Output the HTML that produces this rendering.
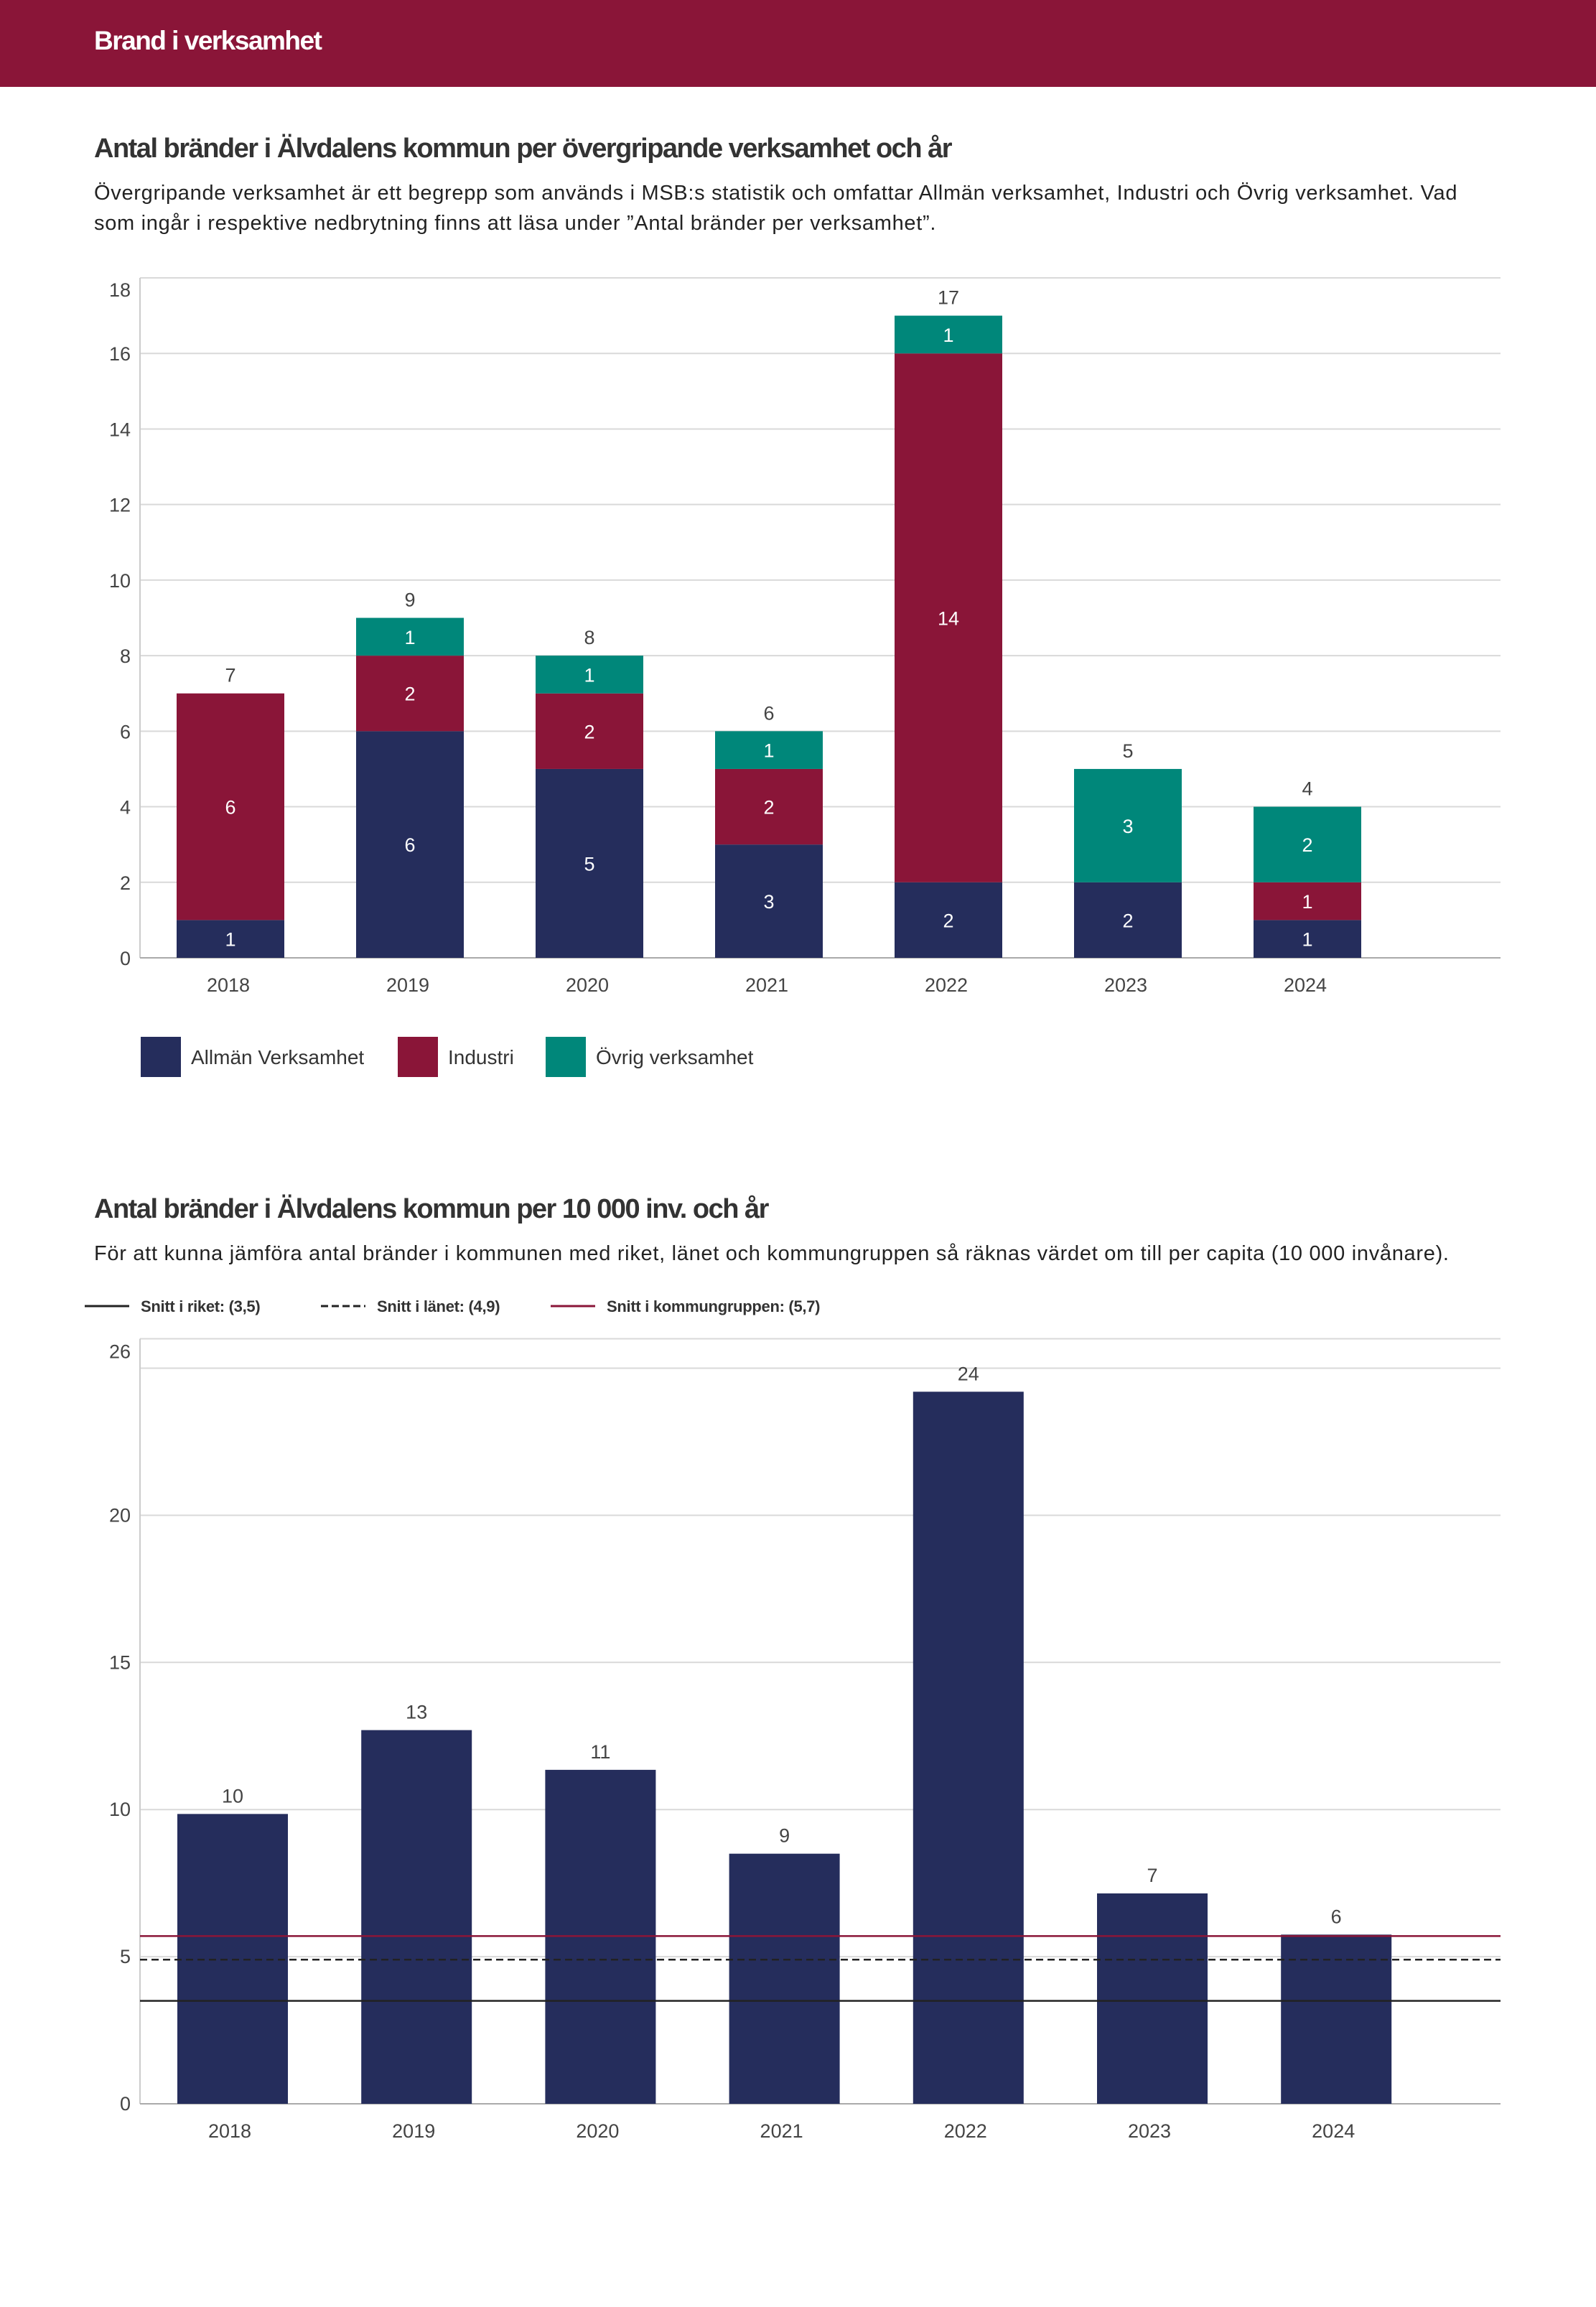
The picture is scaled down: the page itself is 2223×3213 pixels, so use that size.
<!DOCTYPE html>
<html><head><meta charset="utf-8">
<style>
html,body{margin:0;padding:0;background:#fff;}
body{width:2223px;height:3213px;position:relative;overflow:hidden;font-family:"Liberation Sans",sans-serif;color:#333;}
.hdr{position:absolute;left:0;top:0;width:2223px;height:121px;background:#8a1538;}
.hdr span{position:absolute;left:131px;top:36px;color:#fff;font-weight:bold;font-size:37px;letter-spacing:-1.5px;}
.t{position:absolute;left:131px;font-weight:bold;font-size:38px;color:#333;letter-spacing:-1.5px;white-space:nowrap;}
.s{position:absolute;left:131px;font-size:29px;color:#222;line-height:42px;letter-spacing:0.7px;white-space:nowrap;}
svg{position:absolute;left:0;top:0;}
</style></head>
<body>
<div class="hdr"><span>Brand i verksamhet</span></div>
<div class="t" style="top:186px">Antal bränder i Älvdalens kommun per övergripande verksamhet och år</div>
<div class="s" style="top:248px">Övergripande verksamhet är ett begrepp som används i MSB:s statistik och omfattar Allmän verksamhet, Industri och Övrig verksamhet. Vad<br>som ingår i respektive nedbrytning finns att läsa under ”Antal bränder per verksamhet”.</div>
<div class="t" style="top:1663px">Antal bränder i Älvdalens kommun per 10 000 inv. och år</div>
<div class="s" style="top:1725px">För att kunna jämföra antal bränder i kommunen med riket, länet och kommungruppen så räknas värdet om till per capita (10 000 invånare).</div>

<svg id="c" width="2223" height="3213" xmlns="http://www.w3.org/2000/svg" font-family="Liberation Sans, sans-serif"></svg>

<script>
const years = ["2018","2019","2020","2021","2022","2023","2024"];
const allman = [1,6,5,3,2,2,1];
const industri = [6,2,2,2,14,0,1];
const ovrig = [0,1,1,1,1,3,2];
const ticks1 = [0,2,4,6,8,10,12,14,16,18];
const perCapita = [9.85,12.7,11.35,8.5,24.2,7.15,5.75];
const perCapitaLabels = ["10","13","11","9","24","7","6"];
const ticks2 = [0,5,10,15,20];
const gridTop2 = 25;
const max2 = 26;
const avgRiket = 3.5, avgLanet = 4.9, avgGrupp = 5.7;

const NS="http://www.w3.org/2000/svg";
const svg=document.getElementById('c');
function mk(tag,attrs,parent){const e=document.createElementNS(NS,tag);for(const k in attrs)e.setAttribute(k,attrs[k]);(parent||svg).appendChild(e);return e;}
const C_N="#252d5c",C_R="#8a1538",C_T="#00877a";

// chart 1
const x0=195,x1=2090,y0=1334,yTop=387,max1=18;
const y1=v=>y0-(v/max1)*(y0-yTop);
const cx1=i=>321+250*i;const bw1=150;
for(const t of ticks1){
 const l=mk('line',{x1:x0,x2:x1,y1:y1(t),y2:y1(t),stroke:"#d9d9d9","stroke-width":2});
 
 
 const off = (t===max1)?26:10;
 const tx=mk('text',{x:182,y:y1(t)+off,"text-anchor":"end","font-size":27,fill:"#444"});tx.textContent=t;
 
 
}
mk('line',{x1:x0,x2:x0,y1:yTop,y2:y0,stroke:"#ccc","stroke-width":2});
mk('line',{x1:x0,x2:x1,y1:y0,y2:y0,stroke:"#aaa","stroke-width":2});
years.forEach((yr,i)=>{
 let base=0;
 [[allman,C_N,'allman'],[industri,C_R,'industri'],[ovrig,C_T,'ovrig']].forEach(([arr,col,nm])=>{
  const v=arr[i]; if(!v)return;
  const r=mk('rect',{x:cx1(i)-bw1/2,y:y1(base+v),width:bw1,height:y1(base)-y1(base+v),fill:col});
  
  
  const t=mk('text',{x:cx1(i),y:(y1(base)+y1(base+v))/2+10,"text-anchor":"middle","font-size":27,fill:"#fff"});t.textContent=v;
  
  
  base+=v;
 });
 const tt=mk('text',{x:cx1(i),y:y1(base)-16,"text-anchor":"middle","font-size":27,fill:"#444"});tt.textContent=base;
 
 
 const xl=mk('text',{x:cx1(i)-3,y:1381,"text-anchor":"middle","font-size":27,fill:"#444"});xl.textContent=yr;
 
 
});
// legend 1
[[196,C_N,"Allmän Verksamhet"],[554,C_R,"Industri"],[760,C_T,"Övrig verksamhet"]].forEach(([x,c,l])=>{
 const r=mk('rect',{x:x,y:1444,width:56,height:56,fill:c});
 
 
 const t=mk('text',{x:x+70,y:1482,"font-size":28,fill:"#333"});t.textContent=l;
 
 
});

// chart 2
const y20=2930,per=40.98;
const y2=v=>y20-v*per;
const cx2=i=>324+256.2*i;const bw2=154;
for(const t of [...ticks2,gridTop2,max2]){
 const l=mk('line',{x1:x0,x2:x1,y1:y2(t),y2:y2(t),stroke:"#d9d9d9","stroke-width":2});
 
 
}
for(const t of ticks2){
 const tx=mk('text',{x:182,y:y2(t)+9,"text-anchor":"end","font-size":27,fill:"#444"});tx.textContent=t;
 
 
}
const tm=mk('text',{x:182,y:y2(max2)+27,"text-anchor":"end","font-size":27,fill:"#444"});tm.textContent=max2;


mk('line',{x1:x0,x2:x0,y1:y2(max2),y2:y20,stroke:"#ccc","stroke-width":2});
mk('line',{x1:x0,x2:x1,y1:y20,y2:y20,stroke:"#aaa","stroke-width":2});
years.forEach((yr,i)=>{
 const v=perCapita[i];
 const r=mk('rect',{x:cx2(i)-bw2/2,y:y2(v),width:bw2,height:y20-y2(v),fill:C_N});
 
 
 const t=mk('text',{x:cx2(i),y:y2(v)-16,"text-anchor":"middle","font-size":27,fill:"#444"});t.textContent=perCapitaLabels[i];
 
 
 const xl=mk('text',{x:cx2(i)-4,y:2977,"text-anchor":"middle","font-size":27,fill:"#444"});xl.textContent=yr;
 
 
});
const ref=[[avgRiket,"#222",null,'avg-riket-line'],[avgLanet,"#222","10,6",'avg-lanet-line'],[avgGrupp,C_R,null,'avg-kommungrupp-line']];
ref.forEach(([v,c,d,n])=>{
 const a={x1:x0,x2:x1,y1:y2(v),y2:y2(v),stroke:c,"stroke-width":2.5};if(d)a["stroke-dasharray"]=d;
 const l=mk('line',a);
 
 
});
// legend 2
[[118,"#222",null,"Snitt i riket: (3,5)"],[447,"#222","10,5","Snitt i länet: (4,9)"],[767,C_R,null,"Snitt i kommungruppen: (5,7)"]].forEach(([x,c,d,l])=>{
 const a={x1:x,x2:x+62,y1:1819,y2:1819,stroke:c,"stroke-width":3};if(d)a["stroke-dasharray"]=d;
 const ln=mk('line',a);
 
 
 const t=mk('text',{x:x+78,y:1827,"font-size":22,"font-weight":"bold",fill:"#333","letter-spacing":"-0.3"});t.textContent=l;
 
 
});
</script>
</body></html>
